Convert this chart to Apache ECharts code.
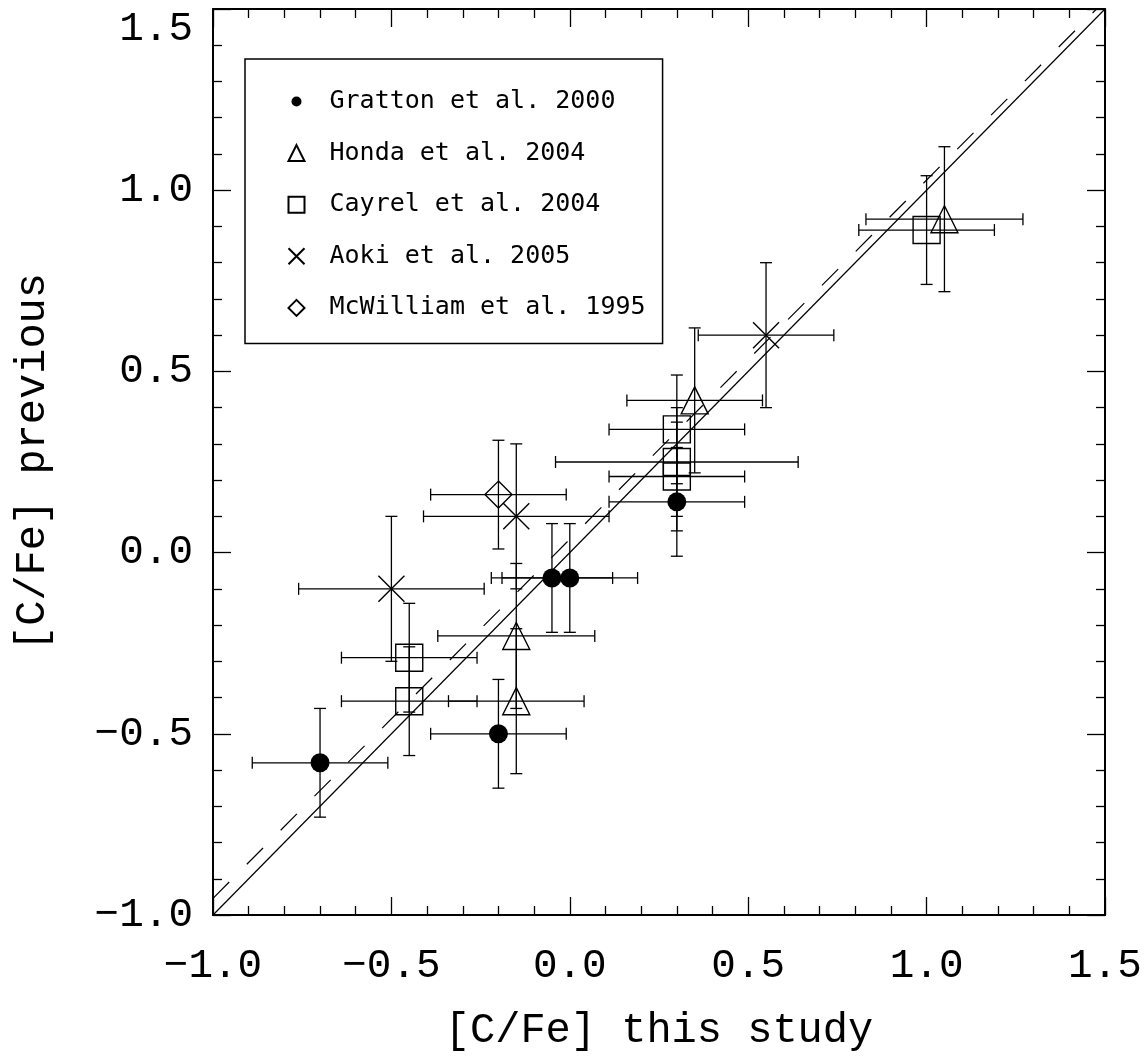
<!DOCTYPE html>
<html><head><meta charset="utf-8">
<script src="https://cdn.jsdelivr.net/npm/echarts@6/dist/echarts.min.js"></script>
<style>html,body{margin:0;padding:0;background:#fff}#c{width:1146px;height:1056px}</style>
</head><body><div id="c"></div>
<script>
// ---- data ----
const xTicks = [-1.0, -0.5, 0.0, 0.5, 1.0, 1.5];
const yTicks = [-1.0, -0.5, 0.0, 0.5, 1.0, 1.5];
const xTitle = '[C/Fe] this study';
const yTitle = '[C/Fe] previous';
const seriesNames = ['Gratton et al. 2000', 'Honda et al. 2004', 'Cayrel et al. 2004', 'Aoki et al. 2005', 'McWilliam et al. 1995'];

const grattonX    = [-0.70, -0.20, -0.05, 0.00, 0.30];
const grattonY    = [-0.58, -0.50, -0.07, -0.07, 0.14];
const grattonXErr = [0.19, 0.19, 0.17, 0.19, 0.19];
const grattonYErr = [0.15, 0.15, 0.15, 0.15, 0.15];

const hondaX    = [-0.15, -0.15, 0.35, 1.05];
const hondaY    = [-0.23, -0.41, 0.42, 0.92];
const hondaXErr = [0.22, 0.19, 0.19, 0.22];
const hondaYErr = [0.20, 0.20, 0.20, 0.20];

const cayrelX    = [-0.45, -0.45, 0.30, 0.30, 0.30, 1.00];
const cayrelY    = [-0.29, -0.41, 0.34, 0.25, 0.21, 0.89];
const cayrelXErr = [0.19, 0.19, 0.19, 0.34, 0.19, 0.19];
const cayrelYErr = [0.15, 0.15, 0.15, 0.15, 0.15, 0.15];

const aokiX    = [-0.50, -0.15, 0.55];
const aokiY    = [-0.10, 0.10, 0.60];
const aokiXErr = [0.26, 0.26, 0.19];
const aokiYErr = [0.20, 0.20, 0.20];

const mcwX    = [-0.20];
const mcwY    = [0.16];
const mcwXErr = [0.19];
const mcwYErr = [0.15];

// dashed fit line: y = a + b x
const fitIntercept = 0.037;
const fitSlope = 0.991;

// ---- build ----
const groups = [
  {name: seriesNames[0], x: grattonX, y: grattonY, ex: grattonXErr, ey: grattonYErr,
   symbol: 'circle', size: 19, filled: true},
  {name: seriesNames[1], x: hondaX, y: hondaY, ex: hondaXErr, ey: hondaYErr,
   symbol: 'triangle', size: 27},
  {name: seriesNames[2], x: cayrelX, y: cayrelY, ex: cayrelXErr, ey: cayrelYErr,
   symbol: 'rect', size: 27},
  {name: seriesNames[3], x: aokiX, y: aokiY, ex: aokiXErr, ey: aokiYErr,
   symbol: 'path://M0,0L10,10M10,0L0,10', size: 26},
  {name: seriesNames[4], x: mcwX, y: mcwY, ex: mcwXErr, ey: mcwYErr,
   symbol: 'diamond', size: 27}
];

const CAP = 6;
function errRender(params, api) {
  const x = api.value(0), y = api.value(1), ex = api.value(2), ey = api.value(3);
  const l = api.coord([x - ex, y]), r = api.coord([x + ex, y]);
  const t = api.coord([x, y + ey]), b = api.coord([x, y - ey]);
  const st = {stroke: '#000', lineWidth: 1.3, fill: null};
  const ln = (x1, y1, x2, y2) => ({type: 'line', shape: {x1, y1, x2, y2}, style: st});
  return {type: 'group', children: [
    ln(l[0], l[1], r[0], r[1]),
    ln(l[0], l[1] - CAP, l[0], l[1] + CAP),
    ln(r[0], r[1] - CAP, r[0], r[1] + CAP),
    ln(t[0], t[1], b[0], b[1]),
    ln(t[0] - CAP, t[1], t[0] + CAP, t[1]),
    ln(b[0] - CAP, b[1], b[0] + CAP, b[1])
  ]};
}

const series = [];
const xMin = xTicks[0], xMax = xTicks[xTicks.length - 1];
const yMin = yTicks[0], yMax = yTicks[yTicks.length - 1];

series.push({
  name: 'one-to-one', type: 'line', silent: true, symbol: 'none', z: 1,
  data: [[xMin, yMin], [xMax, yMax]],
  lineStyle: {color: '#000', width: 1.2}
});
series.push({
  name: 'fit', type: 'line', silent: true, symbol: 'none', z: 1, clip: true,
  data: [[xMin, fitIntercept + fitSlope * xMin], [xMax, fitIntercept + fitSlope * xMax]],
  lineStyle: {color: '#000', width: 1.2, type: [23, 25]}
});

groups.forEach(g => {
  const d = g.x.map((v, i) => [v, g.y[i], g.ex[i], g.ey[i]]);
  series.push({
    name: g.name + ' err', type: 'custom', renderItem: errRender, z: 2, silent: true,
    encode: {x: 0, y: 1}, data: d
  });
});
groups.forEach(g => {
  const d = g.x.map((v, i) => [v, g.y[i]]);
  series.push({
    name: g.name, type: 'scatter', symbol: g.symbol, symbolSize: g.size, z: 3, silent: true,
    data: d,
    itemStyle: g.filled ? {color: '#000', borderWidth: 0, opacity: 1}
                        : {color: 'none', borderColor: '#000', borderWidth: 1.4, opacity: 1}
  });
});

const fmt = v => (v < 0 ? '\u2212' : '') + Math.abs(v).toFixed(1);
const tickFont = {fontFamily: 'Liberation Mono', fontSize: 41, color: '#000'};
const titleFont = {fontFamily: 'Liberation Mono', fontSize: 42, color: '#000'};

function axisBase(min, max, interval) {
  return {
    type: 'value', min, max, interval,
    axisLine: {show: true, onZero: false, lineStyle: {color: '#000', width: 2}},
    axisTick: {show: true, inside: true, length: 18, lineStyle: {color: '#000', width: 1.3}},
    minorTick: {show: true, splitNumber: 5, length: 9, lineStyle: {color: '#000', width: 1.3}},
    splitLine: {show: false}, minorSplitLine: {show: false}
  };
}
const xInt = xTicks[1] - xTicks[0];
const yInt = yTicks[1] - yTicks[0];

const option = {
  backgroundColor: '#fff',
  animation: false,
  grid: {left: 213, right: 41, top: 9, bottom: 141, containLabel: false, outerBoundsMode: 'none'},
  legend: {
    data: [
      {name: seriesNames[0], icon: 'path://M0,0M16,16M3,8A5,5,0,1,1,13,8A5,5,0,1,1,3,8Z'},
      {name: seriesNames[1]}, {name: seriesNames[2]}, {name: seriesNames[3]}, {name: seriesNames[4]}
    ],
    orient: 'vertical', left: 245, top: 59,
    padding: [30, 17, 23, 41], itemGap: 26.6, itemWidth: 16, itemHeight: 16,
    borderColor: '#000', borderWidth: 1.5, backgroundColor: '#fff',
    selectedMode: false,
    formatter: n => '{t|' + n + '}',
    textStyle: {fontFamily: 'DejaVu Sans Mono', fontSize: 25, color: '#000',
      rich: {t: {fontFamily: 'DejaVu Sans Mono', fontSize: 25, color: '#000', lineHeight: 25, padding: [0, 0, 0, 20]}}}
  },
  xAxis: [
    Object.assign(axisBase(xMin, xMax, xInt), {
      position: 'bottom',
      axisLabel: Object.assign({show: true, margin: 31, formatter: fmt}, tickFont),
      name: xTitle, nameLocation: 'middle', nameGap: 95, nameTextStyle: titleFont
    }),
    Object.assign(axisBase(xMin, xMax, xInt), {position: 'top', axisLabel: {show: false}})
  ],
  yAxis: [
    Object.assign(axisBase(yMin, yMax, yInt), {
      position: 'left',
      axisLabel: Object.assign({show: true, margin: 20, formatter: fmt, verticalAlignMaxLabel: 'top'}, tickFont),
      name: yTitle, nameLocation: 'middle', nameGap: 159, nameTextStyle: titleFont
    }),
    Object.assign(axisBase(yMin, yMax, yInt), {position: 'right', axisLabel: {show: false}})
  ],
  series
};

const chart = echarts.init(document.getElementById('c'), null, {renderer: 'canvas'});
chart.setOption(option);
</script>
</body></html>
